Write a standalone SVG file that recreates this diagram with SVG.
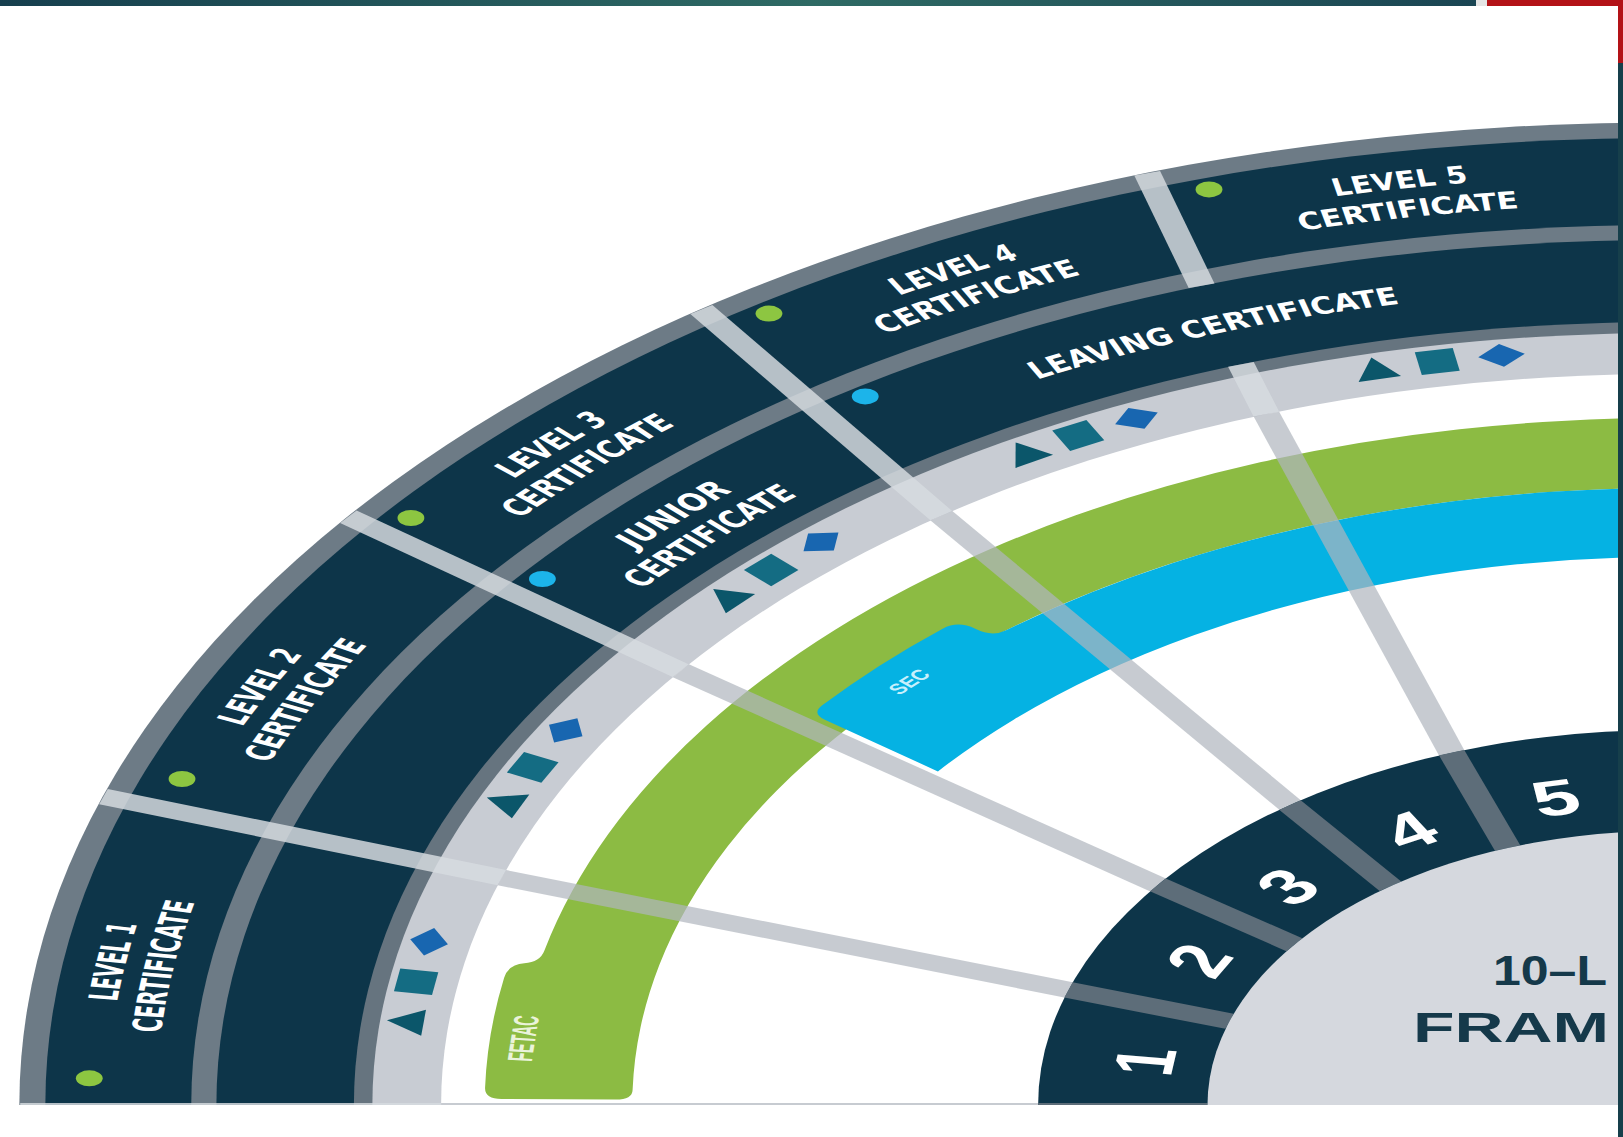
<svg xmlns="http://www.w3.org/2000/svg" width="1623" height="1137" viewBox="0 0 1623 1137">
<style>
.navy{fill:#0d3549}
.gb{fill:#6d7b86}
.sepO{stroke:#d7dbe0;stroke-opacity:0.84;stroke-width:16;fill:none}
.sepI{stroke:#afb5be;stroke-opacity:0.7;stroke-width:16;fill:none}
.sepN{stroke:#5d6d79;stroke-width:16;fill:none}
.thin{stroke-width:4}
.lbl{font-family:"Liberation Sans Narrow","DejaVu Sans Condensed","Liberation Sans",sans-serif;font-weight:bold;font-size:24px;fill:#ffffff}
.num{font-family:"Liberation Sans","DejaVu Sans",sans-serif;font-weight:bold;font-size:50px;fill:#ffffff;text-anchor:middle}
.ctr{font-family:"Liberation Sans","DejaVu Sans",sans-serif;font-weight:bold;font-size:42px;fill:#15394a}
.gdot{fill:#8dc641}
.bdot{fill:#1cb4ea}
</style>
<defs>
<linearGradient id="topg" x1="0" y1="0" x2="1" y2="0">
<stop offset="0" stop-color="#163f4e"/>
<stop offset="0.55" stop-color="#2e6a64"/>
<stop offset="1" stop-color="#1a4553"/>
</linearGradient>
<clipPath id="clip"><rect x="0" y="0" width="1618" height="1105"/></clipPath>
<path id="a930" d="M -240.70 -898.31 A 930 930 0 0 1 240.70 -898.31"/>
<path id="a901" d="M -233.20 -870.30 A 901 901 0 0 1 233.20 -870.30"/>
<path id="a829" d="M -214.56 -800.75 A 829 829 0 0 1 214.56 -800.75"/>
<path id="a800" d="M -207.06 -772.74 A 800 800 0 0 1 207.06 -772.74"/>
<path id="a817" d="M -211.46 -789.16 A 817 817 0 0 1 211.46 -789.16"/>
<polygon id="tri" points="0,-12 13,10 -13,10" fill="#0b566a"/>
<rect id="sq" x="-11.5" y="-11.5" width="23" height="23" fill="#146c83"/>
<polygon id="dia" points="0,-11.5 14,0 0,11.5 -14,0" fill="#1866b0"/>
</defs>
<rect width="1623" height="1137" fill="#ffffff"/>
<g id="frame">
<rect x="0" y="0" width="1476" height="6" fill="url(#topg)"/>
<rect x="1476" y="0" width="11" height="6" fill="#e4e4e4"/>
<rect x="1487" y="0" width="136" height="6" fill="#b31217"/>
</g>
<g clip-path="url(#clip)">
<g id="fan" transform="translate(1667 1105) scale(1.677 1)">
<g id="rings">
<circle r="982.5" class="gb"/>
<circle r="967" class="navy"/>
<circle r="880" class="gb"/>
<circle r="865" class="navy"/>
<circle r="783" fill="#66747f"/>
<circle r="772" fill="#c8ccd3"/>
<circle r="731" fill="#ffffff"/>
</g>
<g id="fetac-band">
<path fill="#8cbb43" d="M -626.98 -5.47 L -694.97 -6.07 Q -704.97 -6.15 -704.79 -17.22 A 705 705 0 0 1 -693.42 -127.27 Q -690.85 -140.55 -681.42 -141.74 Q -671.99 -142.83 -669.39 -154.54 A 687 687 0 0 1 59.88 -684.39 L 53.78 -614.65 A 617 617 0 0 0 -616.82 -15.07 Q -616.98 -5.38 -626.98 -5.47 Z"/>
<text transform="rotate(-84.43)" x="0" y="-678" text-anchor="middle" textLength="46" lengthAdjust="spacingAndGlyphs" style="font-family:'Liberation Sans Narrow','Liberation Sans',sans-serif;font-weight:bold;font-size:21px;fill:#eaf3da">FETAC</text>
</g>
<g id="sec-band">
<path fill="#05b2e3" d="M -434.76 -333.60 L -502.19 -385.35 Q -510.13 -391.43 -503.93 -399.41 A 643 643 0 0 1 -431.92 -476.34 Q -422.69 -484.54 -412.49 -476.19 Q -402.34 -467.77 -394.12 -474.73 A 617 617 0 0 1 53.78 -614.65 L 47.76 -545.91 A 548 548 0 0 0 -434.76 -333.60 Z"/>
<text transform="rotate(-46.87)" x="0" y="-614" text-anchor="middle" textLength="28" lengthAdjust="spacingAndGlyphs" style="font-family:'Liberation Sans Narrow','Liberation Sans',sans-serif;font-weight:bold;font-size:15px;fill:#c8f0fc">SEC</text>
</g>
<g id="connectors">
<path class="sepO thin" d="M -982 0 L -731 0"/>
<path class="sepI thin" d="M -731 0 L -375 0"/>
<path class="sepO" d="M -932.34 -308.34 L -694.74 -227.38"/>
<path class="sepI" d="M -694.74 -227.38 L -356.91 -115.08"/>
<path class="sepO" d="M -786.32 -588.24 L -588.03 -434.26"/>
<path class="sepI" d="M -588.03 -434.26 L -303.60 -220.12"/>
<path class="sepO" d="M -575.82 -795.46 L -432.66 -589.22"/>
<path class="sepI" d="M -432.66 -589.22 L -224.86 -300.11"/>
<path class="sepO" d="M -309.97 -931.82 L -277.53 -819.27"/>
<path class="sepO" d="M -254.07 -740.63 L -238.88 -690.87"/>
<path class="sepI" d="M -238.88 -690.87 L -128.44 -352.32"/>
</g>
<g id="level-ring">
<circle r="375" class="navy"/>
<path class="sepN thin" d="M -375 0 L -274 0"/>
<path class="sepN" d="M -356.91 -115.08 L -260.88 -83.76"/>
<path class="sepN" d="M -303.60 -220.12 L -222.23 -160.28"/>
<path class="sepN" d="M -224.86 -300.11 L -164.90 -218.83"/>
<path class="sepN" d="M -128.44 -352.32 L -95.06 -256.99"/>
<text class="num" transform="rotate(-82)" x="0" y="-297">1</text>
<text class="num" transform="rotate(-62.6)" x="0" y="-297">2</text>
<text class="num" transform="rotate(-46)" x="0" y="-297">3</text>
<text class="num" transform="rotate(-29.2)" x="0" y="-297">4</text>
<text class="num" transform="rotate(-12.2)" x="0" y="-297">5</text>
</g>
<g id="centre">
<circle r="274" fill="#d5d8de"/>
<text class="ctr" x="-103.8" y="-120" textLength="68" lengthAdjust="spacingAndGlyphs">10–L</text>
<text class="ctr" x="-151.5" y="-63" textLength="117" lengthAdjust="spacingAndGlyphs">FRAM</text>
</g>
<g id="level1">
<circle class="gdot" cx="-940.8" cy="-26.7" r="8"/>
<text class="lbl" transform="rotate(-81.2)"><textPath href="#a930" startOffset="50%" text-anchor="middle" textLength="78" lengthAdjust="spacingAndGlyphs">LEVEL 1</textPath></text>
<text class="lbl" transform="rotate(-81.2)"><textPath href="#a901" startOffset="50%" text-anchor="middle" textLength="132" lengthAdjust="spacingAndGlyphs">CERTIFICATE</textPath></text>
<use href="#tri" transform="rotate(-83.67) translate(0 -756)"/>
<use href="#sq" transform="rotate(-80.62) translate(0 -756)"/>
<use href="#dia" transform="rotate(-77.53) translate(0 -756)"/>
</g>
<g id="level2">
<circle class="gdot" cx="-885.5" cy="-326" r="8"/>
<text class="lbl" transform="rotate(-63.5)"><textPath href="#a930" startOffset="50%" text-anchor="middle" textLength="81" lengthAdjust="spacingAndGlyphs">LEVEL 2</textPath></text>
<text class="lbl" transform="rotate(-63.5)"><textPath href="#a901" startOffset="50%" text-anchor="middle" textLength="132" lengthAdjust="spacingAndGlyphs">CERTIFICATE</textPath></text>
<use href="#tri" transform="rotate(-66.4) translate(0 -756)"/>
<use href="#sq" transform="rotate(-63.47) translate(0 -756)"/>
<use href="#dia" transform="rotate(-60.3) translate(0 -756)"/>
</g>
<g id="level3">
<circle class="gdot" cx="-749" cy="-587" r="8"/>
<text class="lbl" transform="rotate(-45.2)"><textPath href="#a930" startOffset="50%" text-anchor="middle" textLength="81" lengthAdjust="spacingAndGlyphs">LEVEL 3</textPath></text>
<text class="lbl" transform="rotate(-45.2)"><textPath href="#a901" startOffset="50%" text-anchor="middle" textLength="132" lengthAdjust="spacingAndGlyphs">CERTIFICATE</textPath></text>
<use href="#tri" transform="rotate(-47.78) translate(0 -756)"/>
<use href="#sq" transform="rotate(-44.96) translate(0 -756)"/>
<use href="#dia" transform="rotate(-41.86) translate(0 -756)"/>
</g>
<g id="junior">
<circle class="bdot" cx="-670.6" cy="-526" r="8"/>
<text class="lbl" transform="rotate(-45.1)"><textPath href="#a829" startOffset="50%" text-anchor="middle" textLength="83" lengthAdjust="spacingAndGlyphs">JUNIOR</textPath></text>
<text class="lbl" transform="rotate(-45.1)"><textPath href="#a800" startOffset="50%" text-anchor="middle" textLength="132" lengthAdjust="spacingAndGlyphs">CERTIFICATE</textPath></text>
</g>
<g id="level4">
<circle class="gdot" cx="-535.5" cy="-791.4" r="8"/>
<text class="lbl" transform="rotate(-27)"><textPath href="#a930" startOffset="50%" text-anchor="middle" textLength="81" lengthAdjust="spacingAndGlyphs">LEVEL 4</textPath></text>
<text class="lbl" transform="rotate(-27)"><textPath href="#a901" startOffset="50%" text-anchor="middle" textLength="132" lengthAdjust="spacingAndGlyphs">CERTIFICATE</textPath></text>
<use href="#tri" transform="rotate(-30.38) translate(0 -756)"/>
<use href="#sq" transform="rotate(-27.67) translate(0 -756)"/>
<use href="#dia" transform="rotate(-24.74) translate(0 -756)"/>
</g>
<g id="leaving">
<circle class="bdot" cx="-478.1" cy="-708.6" r="8"/>
<text class="lbl" transform="rotate(-19.3)"><textPath href="#a817" startOffset="50%" text-anchor="middle" textLength="230" lengthAdjust="spacingAndGlyphs">LEAVING CERTIFICATE</textPath></text>
</g>
<g id="level5">
<circle class="gdot" cx="-273.1" cy="-915.6" r="8"/>
<text class="lbl" transform="rotate(-9.8)"><textPath href="#a930" startOffset="50%" text-anchor="middle" textLength="81" lengthAdjust="spacingAndGlyphs">LEVEL 5</textPath></text>
<text class="lbl" transform="rotate(-9.8)"><textPath href="#a901" startOffset="50%" text-anchor="middle" textLength="132" lengthAdjust="spacingAndGlyphs">CERTIFICATE</textPath></text>
<use href="#tri" transform="rotate(-13.27) translate(0 -756)"/>
<use href="#sq" transform="rotate(-10.44) translate(0 -756)"/>
<use href="#dia" transform="rotate(-7.5) translate(0 -756)"/>
</g>
</g>
</g>
<g id="edge">
<rect x="1618" y="0" width="5" height="63" fill="#b31217"/>
<rect x="1618" y="63" width="5" height="1074" fill="#163f4b"/>
</g>
</svg>
